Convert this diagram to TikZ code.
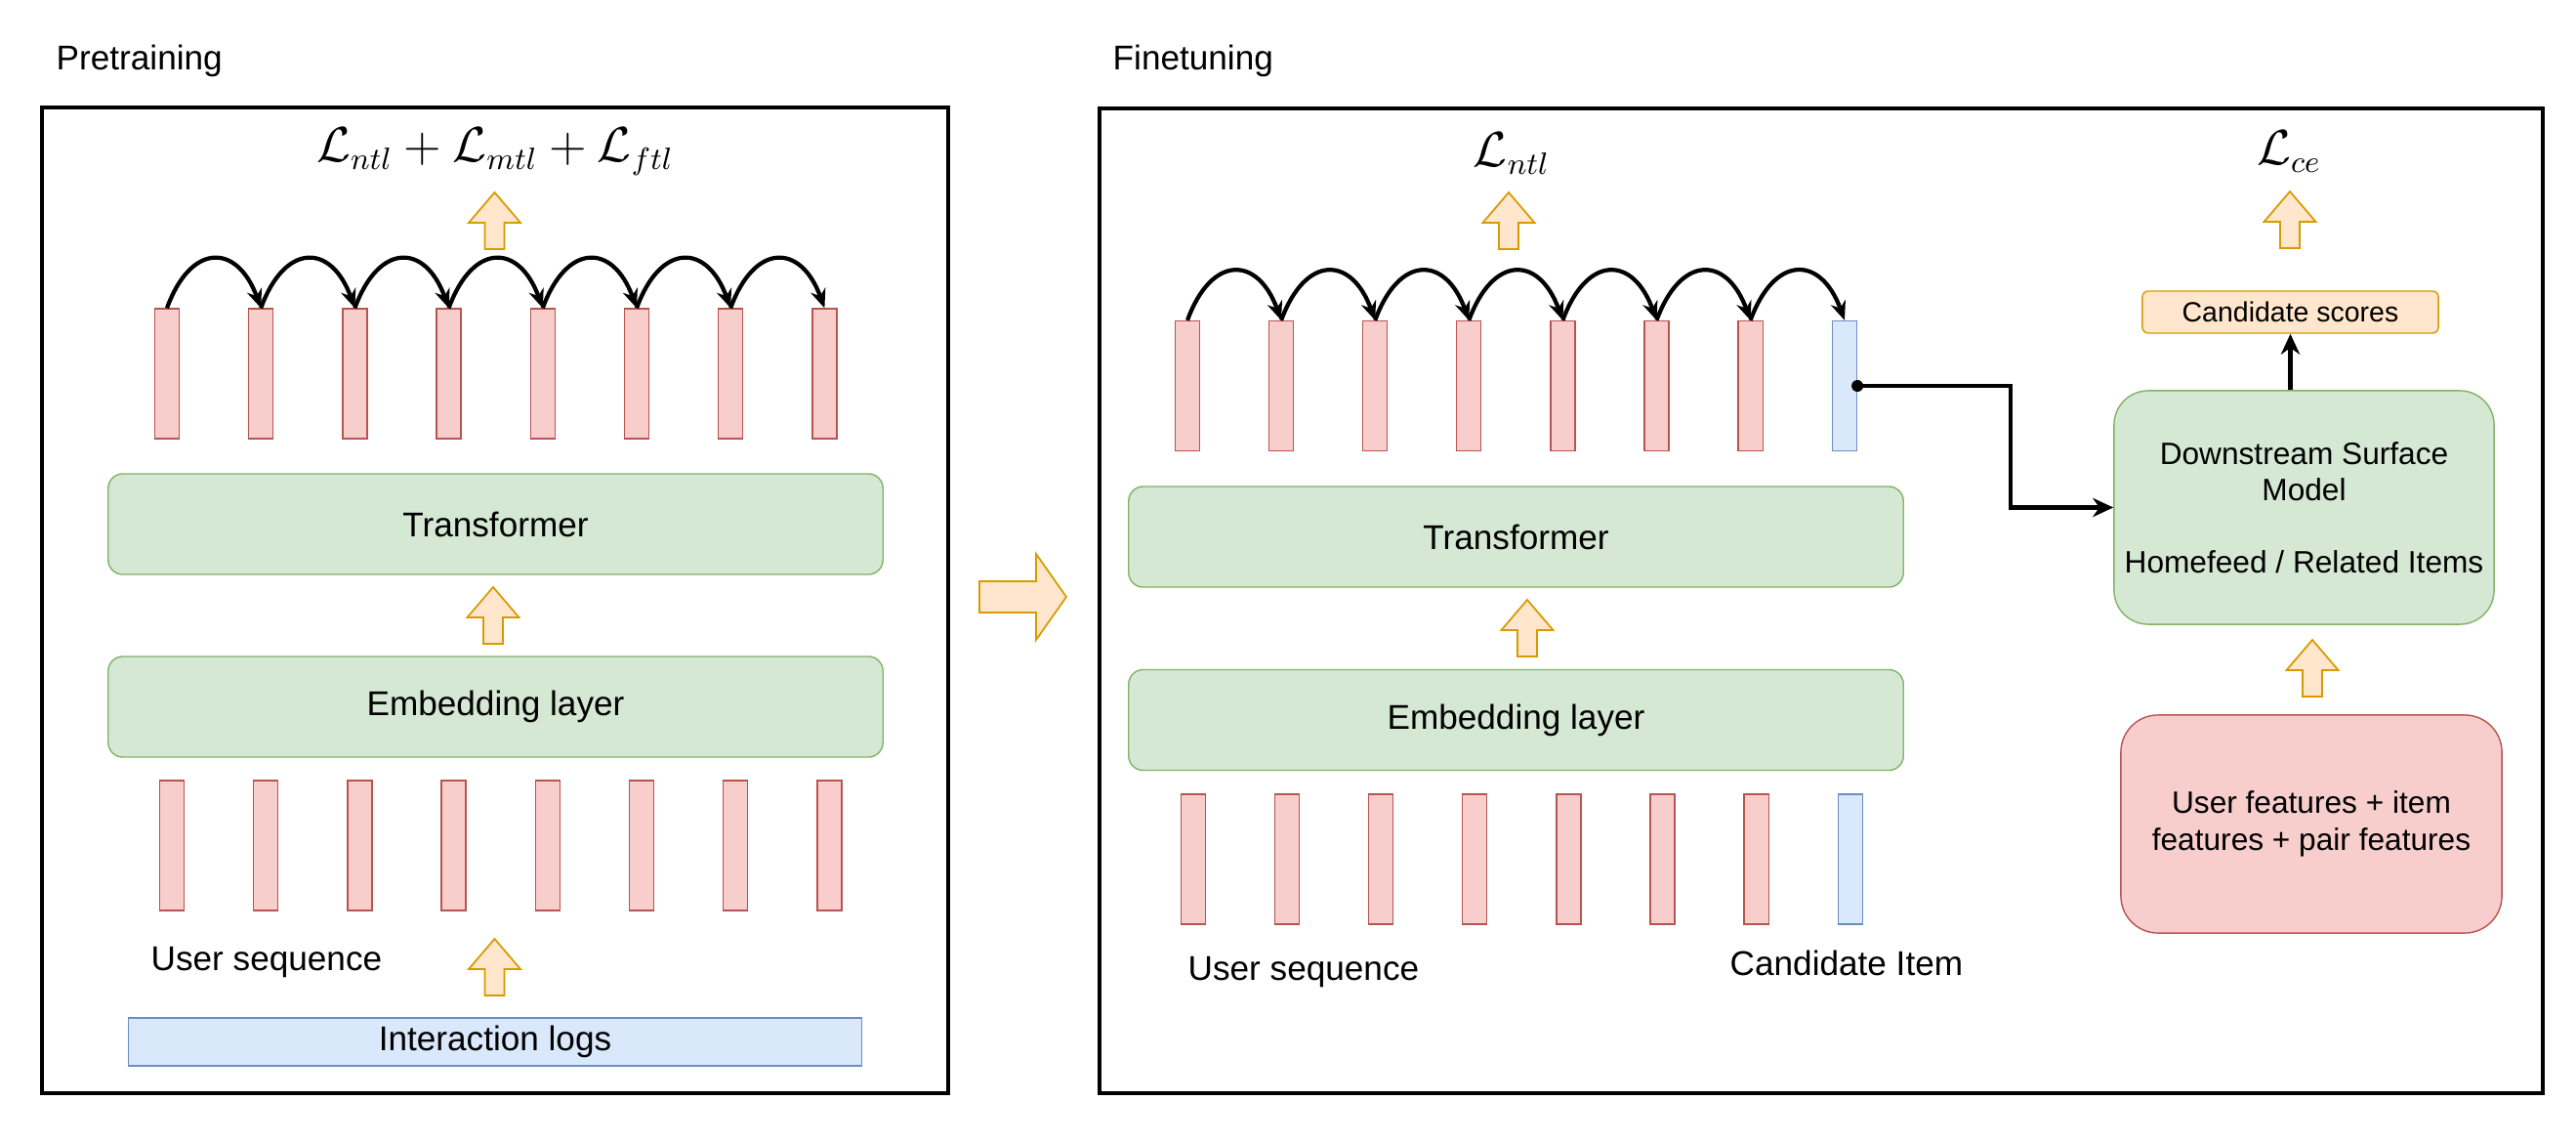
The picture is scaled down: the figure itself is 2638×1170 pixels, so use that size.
\documentclass[tikz,border=0pt]{standalone}
\usepackage{fontspec}
\newfontfamily\drawfont{Liberation Sans}
\usetikzlibrary{positioning,arrows.meta}

\definecolor{redfill}{HTML}{F8CECC}
\definecolor{redline}{HTML}{B85450}
\definecolor{greenfill}{HTML}{D5E8D4}
\definecolor{greenline}{HTML}{82B366}
\definecolor{bluefill}{HTML}{DAE8FC}
\definecolor{blueline}{HTML}{6C8EBF}
\definecolor{orangefill}{HTML}{FFE6CC}
\definecolor{orangeline}{HTML}{D79B00}

\tikzset{
  panel/.style={draw, line width=1.1pt},
  layer/.style={draw=greenline, fill=greenfill, rounded corners=0.15cm, minimum width=7.93cm, minimum height=1.03cm, font=\drawfont\fontsize{10}{12}\selectfont},
  token/.style={draw=redline, fill=redfill, line width=0.35pt, minimum width=0.25cm, minimum height=1.33cm, inner sep=0pt},
  candtoken/.style={token, draw=blueline, fill=bluefill},
  hop/.style={-{Stealth[length=5.5pt,width=4.5pt]}, line width=1.2pt, out=70, in=110, looseness=1.9},
  wire/.style={line width=1.2pt},
  tip/.style={-{Stealth[length=6pt,width=5.5pt]}},
  txt/.style={font=\drawfont\fontsize{10}{12}\selectfont, inner sep=0pt},
  loss/.style={font=\fontsize{13.5}{16}\selectfont, inner sep=0pt},
  fatarrow/.style={draw=orangeline, fill=orangefill, line width=0.5pt},
}

% orange block arrow pointing up, given its bottom centre
\newcommand{\fatup}[1]{\draw[fatarrow] (#1) ++(-10,0) -- ++(0,-27) -- ++(-16.5,0) -- ++(26.5,-31) -- ++(26.5,31) -- ++(-16.5,0) -- ++(0,27) -- cycle;}

\begin{document}
\begin{tikzpicture}[x=0.01cm, y=-0.01cm]
  \useasboundingbox (0,0) rectangle (2638,1170);

  % pretraining
  \node[txt, anchor=base west] (pretitle) at (57,72) {Pretraining};
  \draw[panel] (43,110) rectangle (971,1119);
  \node[loss] (lpre) at (507,155) {$\mathcal{L}_{ntl}+\mathcal{L}_{mtl}+\mathcal{L}_{ftl}$};
  \fatup{506.5,255}

  \foreach \i in {1,...,8}
    \node[token] (pt\i) at ({171+96.2*(\i-1)},382.5) {};
  \foreach \i [count=\j from 2] in {1,...,7}
    \draw[hop] (pt\i.north) to (pt\j.north);

  \node[layer] (ptrans) at (507.5,536.5) {Transformer};
  \fatup{505,659}
  \node[layer] (pemb) at (507.5,723.5) {Embedding layer};

  \foreach \i in {1,...,8}
    \node[token] (pin\i) at ({176+96.2*(\i-1)},865.5) {};

  \node[txt, anchor=base west] (pseq) at (154,993) {User sequence};
  \fatup{506.5,1019}
  \node[txt, draw=blueline, fill=bluefill, minimum width=7.5cm, minimum height=0.49cm] (logs) at (507,1066.5) {Interaction logs};

  % pretraining -> finetuning
  \draw[fatarrow] (1003,595) -- (1061,595) -- (1061,567) -- (1092,611) -- (1061,655) -- (1061,627) -- (1003,627) -- cycle;

  % finetuning
  \node[txt, anchor=base west] (fttitle) at (1139,72) {Finetuning};
  \draw[panel] (1126,111) rectangle (2604,1119);
  \node[loss] (lft) at (1548,157) {$\mathcal{L}_{ntl}$};
  \fatup{1545,255}

  \foreach \i in {1,...,7}
    \node[token] (ft\i) at ({1216+96.1*(\i-1)},395) {};
  \node[candtoken] (ft8) at (1889,395) {};
  \foreach \i [count=\j from 2] in {1,...,7}
    \draw[hop] (ft\i.north) to (ft\j.north);

  \node[layer] (ftrans) at (1552.5,549.5) {Transformer};
  \fatup{1564,672}
  \node[layer] (femb) at (1552.5,737) {Embedding layer};

  \foreach \i in {1,...,7}
    \node[token] (fin\i) at ({1222+96.1*(\i-1)},879.5) {};
  \node[candtoken] (fin8) at (1895,879.5) {};

  \node[txt, anchor=base west] (fseq) at (1216,1003) {User sequence};
  \node[txt, anchor=base west] (fcand) at (1771,998) {Candidate Item};

  % downstream model
  \node[loss] (lce) at (2344,155) {$\mathcal{L}_{ce}$};
  \fatup{2345,254}
  \node[txt, draw=orangeline, fill=orangefill, rounded corners=0.06cm, minimum width=3.03cm, minimum height=0.43cm, font=\drawfont\fontsize{8.1}{10}\selectfont] (cand) at (2345.5,319.5) {Candidate scores};
  \node[txt, draw=greenline, fill=greenfill, rounded corners=0.35cm, minimum width=3.89cm, minimum height=2.39cm, align=center, font=\drawfont\fontsize{9}{10.5}\selectfont] (ds) at (2359.5,519.5) {Downstream Surface\\Model\\[10.5pt]Homefeed / Related Items};
  \fatup{2368,713}
  \node[txt, draw=redline, fill=redfill, rounded corners=0.38cm, minimum width=3.9cm, minimum height=2.23cm, align=center, font=\drawfont\fontsize{9}{10.8}\selectfont] (feat) at (2367,843.5) {User features + item\\features + pair features};

  \draw[wire, tip] (cand.south |- ds.north) -- (cand.south);
  \fill (ft8.east) circle (6);
  \draw[wire, tip] (ft8.east) -- ++(157,0) |- (ds.west);
\end{tikzpicture}
\end{document}
